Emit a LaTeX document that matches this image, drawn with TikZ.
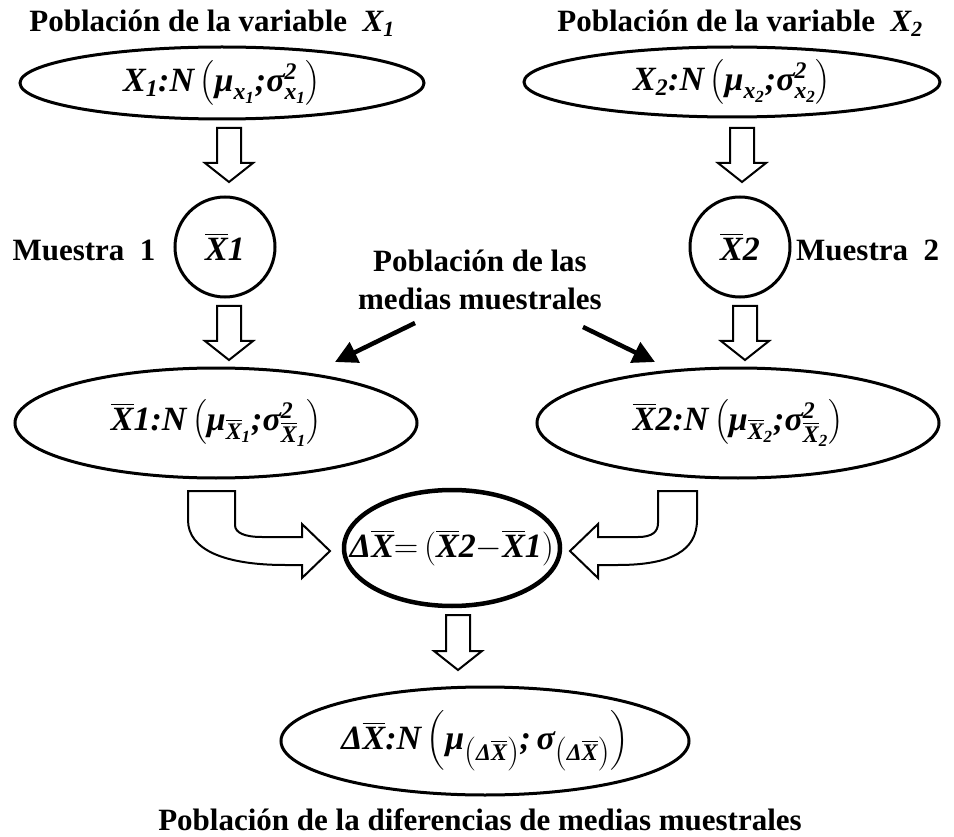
\documentclass[tikz,border=0pt]{standalone}
\usepackage{fix-cm}
\usepackage{amsmath}
\usepackage{fontspec}
\setmainfont{Liberation Serif}
\usetikzlibrary{arrows.meta,shapes.geometric}

\newcommand\tb[1]{\text{\bfseries\itshape #1}}
\newcommand\ob[1]{\overline{\tb{#1}}}
% hollow block arrow pointing down: x, ytop, ytip
\newcommand\harrow[3]{%
  \draw[hollow] (#1-12,#2) -- (#1+12,#2) -- (#1+12,#3-19) -- (#1+24,#3-19)
    -- (#1,#3) -- (#1-24,#3-19) -- (#1-12,#3-19) -- cycle;}

\begin{document}
\begin{tikzpicture}[x=1pt,y=-1pt,
  title/.style={font=\fontsize{31}{36}\selectfont\bfseries, inner sep=0pt},
  ell/.style={ellipse, draw, line width=3pt, inner sep=0pt},
  eqn/.style={inner sep=0pt, font=\fontsize{34}{40}\selectfont},
  circ/.style={circle, draw, line width=3pt, inner sep=0pt, minimum size=100pt},
  hollow/.style={draw, line width=2pt, fill=white, line join=miter},
  blk/.style={line width=4.5pt, -{Triangle[length=22pt,width=22pt]}}]
\useasboundingbox (0,0) rectangle (954,837);

% titles
\node[title] (t1) at (212,23) {Población de la variable\ \ $\tb{X}_{\tb{1}}$};
\node[title] (t2) at (740,23) {Población de la variable\ \ $\tb{X}_{\tb{2}}$};

% population ellipses
\node[ell, minimum width=404pt, minimum height=72pt] (p1) at (222,83) {};
\node[eqn] (p1t) at (p1)
  {$\tb{X}_{\tb{1}}\tb{:}\tb{N}\left(\tb{μ}_{\tb{x}_{\tb{1}}}\tb{;}\tb{σ}^{\tb{2}}_{\tb{x}_{\tb{1}}}\right)$};
\node[ell, minimum width=416pt, minimum height=70pt] (p2) at (732,82) {};
\node[eqn] (p2t) at (p2)
  {$\tb{X}_{\tb{2}}\tb{:}\tb{N}\left(\tb{μ}_{\tb{x}_{\tb{2}}}\tb{;}\tb{σ}^{\tb{2}}_{\tb{x}_{\tb{2}}}\right)$};

% samples
\node[circ] (m1) at (225,247) {};
\node[eqn] (m1t) at (m1) {$\ob{X}\tb{1}$};
\node[circ] (m2) at (740,247) {};
\node[eqn] (m2t) at (m2) {$\ob{X}\tb{2}$};
\node[title] (l1) at (84,250) {Muestra\ \ 1};
\node[title, anchor=west] (l2) at (796,250) {Muestra\ \ 2};

% label for sample means
\node[title, align=center] (lm) at (480,280) {Población de las\\[2pt]medias muestrales};

% sample-mean populations
\node[ell, minimum width=402pt, minimum height=110pt] (n1) at (216,423) {};
\node[eqn] (n1t) at (n1)
  {$\ob{X}\tb{1}\tb{:}\tb{N}\left(\tb{μ}_{\ob{X}_{\tb{1}}}\tb{;}\tb{σ}^{\tb{2}}_{\ob{X}_{\tb{1}}}\right)$};
\node[ell, minimum width=402pt, minimum height=110pt] (n2) at (738,423) {};
\node[eqn] (n2t) at (n2)
  {$\ob{X}\tb{2}\tb{:}\tb{N}\left(\tb{μ}_{\ob{X}_{\tb{2}}}\tb{;}\tb{σ}^{\tb{2}}_{\ob{X}_{\tb{2}}}\right)$};

% difference
\node[ell, line width=4.5pt, minimum width=216pt, minimum height=116pt] (d) at (452,548) {};
\node[eqn] (dt) at (d)
  {$\tb{Δ}\ob{X}{=}\left(\ob{X}\tb{2}{-}\ob{X}\tb{1}\right)$};

% difference population
\node[ell, minimum width=408pt, minimum height=108pt] (b) at (485,741) {};
\node[eqn] (bt) at (b)
  {$\tb{Δ}\ob{X}\tb{:}\tb{N}\left(\tb{μ}_{\left(\tb{Δ}\ob{X}\right)}\tb{;}\,\tb{σ}_{\left(\tb{Δ}\ob{X}\right)}\right)$};
\node[title] (tb) at (480,820) {Población de la diferencias de medias muestrales};

% hollow arrows
\harrow{229}{128}{182}
\harrow{742}{128}{182}
\harrow{229}{306}{360}
\harrow{745}{306}{360}
\harrow{458}{615}{670}

% curved hollow arrows
\draw[hollow] (188,491) -- (235,491) -- (235,525)
  .. controls (235,533) and (245,537) .. (262,537) -- (302,537) -- (302,524)
  -- (330,551) -- (302,578) -- (302,565) -- (285,565)
  .. controls (225,565) and (188,550) .. (188,520) -- cycle;
\draw[hollow] (697,491) -- (658,491) -- (658,523)
  .. controls (658,532) and (652,537) .. (638,537) -- (598,537) -- (598,524)
  -- (570,551) -- (598,578) -- (598,565) -- (618,565)
  .. controls (672,565) and (697,550) .. (697,520) -- cycle;

% black arrows from label
\coordinate (lmA) at (415,323);
\coordinate (lmB) at (583,327);
\draw[blk] (lmA) -- (335,362);
\draw[blk] (lmB) -- (655,362);
\end{tikzpicture}
\end{document}
